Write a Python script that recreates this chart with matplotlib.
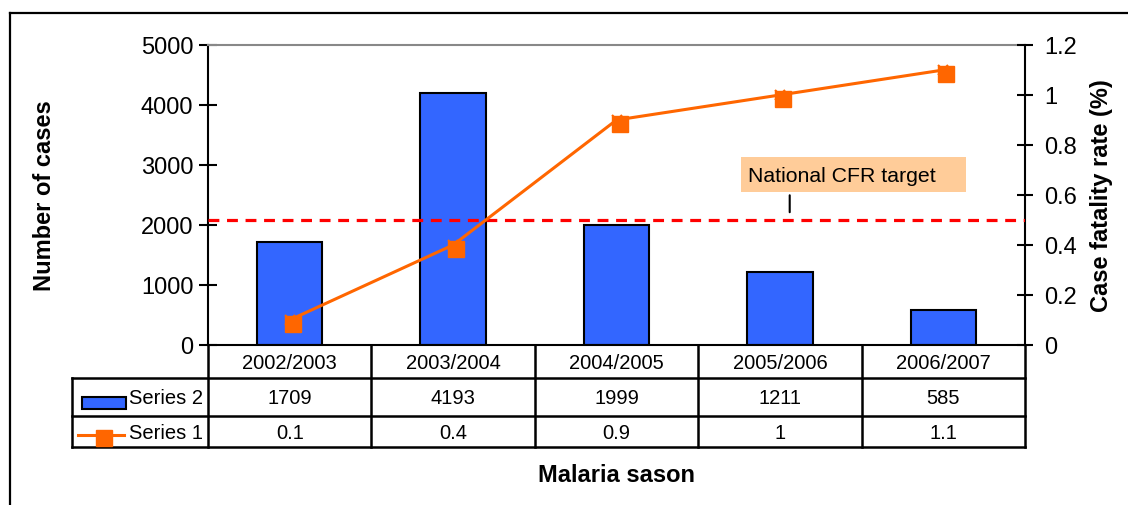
import matplotlib
matplotlib.use("Agg")
import matplotlib.pyplot as plt
from matplotlib.patches import Rectangle
from matplotlib.lines import Line2D
import matplotlib.transforms as mtransforms

plt.rcParams['font.family'] = ['Liberation Sans', 'DejaVu Sans']

# ---- data ----
seasons = ["2002/2003", "2003/2004", "2004/2005", "2005/2006", "2006/2007"]
cases = [1709, 4193, 1999, 1211, 585]
cfr = [0.1, 0.4, 0.9, 1.0, 1.1]
cfr_target = 0.5
series_cases_name = "Series 2"
series_cfr_name = "Series 1"
left_ticks = [0, 1000, 2000, 3000, 4000, 5000]
right_ticks = [0, 0.2, 0.4, 0.6, 0.8, 1, 1.2]

W, H = 1128, 506
DPI = 100
fig = plt.figure(figsize=(W / DPI, H / DPI), dpi=DPI)

def fbox(x0, y0, x1, y1):
    # pixel box (top-origin) -> figure fraction rect
    return [x0 / W, 1 - y1 / H, (x1 - x0) / W, (y1 - y0) / H]

BLUE = "#3366FF"
ORANGE = "#FF6600"

# outer frame (top and left edges)
fig.add_artist(Line2D([10 / W, 10 / W], [1 - 14 / H, 0], color="black", lw=1.6,
                      transform=fig.transFigure))
fig.add_artist(Line2D([10 / W, 1], [1 - 14 / H, 1 - 14 / H], color="black", lw=1.6,
                      transform=fig.transFigure))

AX_L, AX_R, AX_T, AX_B = 208, 1025, 46, 346
ax = fig.add_axes(fbox(AX_L, AX_T, AX_R, AX_B))
x = list(range(len(seasons)))
ax.bar(x, cases, width=0.40, color=BLUE, edgecolor="black", linewidth=1.5, zorder=2)
ax.set_xlim(-0.5, len(seasons) - 0.5)
ax.set_ylim(0, 5000)
ax.set_yticks(left_ticks)
ax.set_yticklabels([str(t) for t in left_ticks])
ax.set_xticks([])
ax.tick_params(axis="y", direction="inout", length=13, width=1.5, labelsize=17, pad=4)
for s in ["left", "bottom"]:
    ax.spines[s].set_linewidth(1.5)
    ax.spines[s].set_color("black")
ax.spines["top"].set_color("#888888")
ax.spines["top"].set_linewidth(1.5)
ax.spines["right"].set_visible(False)
ax.set_ylabel("Number of cases", fontsize=17, fontweight="bold")
ax.yaxis.set_label_coords(-152 / (AX_R - AX_L), 0.5)

ax2 = ax.twinx()
ax2.set_ylim(0, 1.2)
ax2.set_yticks(right_ticks)
ax2.set_yticklabels(["{:g}".format(t) for t in right_ticks])
ax2.tick_params(axis="y", direction="inout", length=12, width=1.5, labelsize=17, pad=8)
ax2.spines["right"].set_linewidth(1.5)
ax2.spines["right"].set_color("black")
for s in ["top", "left", "bottom"]:
    ax2.spines[s].set_visible(False)
ax2.set_ylabel("Case fatality rate (%)", fontsize=17, fontweight="bold")
ax2.yaxis.set_label_coords(1 + 65 / (AX_R - AX_L), 0.5)

# target line
ax2.axhline(cfr_target, color="#FF0000", lw=2.3, linestyle=(0, (3.4, 2.4)), zorder=3)

# CFR line
ax2.plot(x, cfr, color=ORANGE, lw=2.2, marker="x", markersize=7, mew=1.5, zorder=4)
off = mtransforms.ScaledTranslation(3 / DPI, -4 / DPI, fig.dpi_scale_trans)
ax2.plot(x, cfr, linestyle="none", marker="s", markersize=12, color=ORANGE,
         transform=ax2.transData + off, zorder=5)

# annotation box
ann_x = 3.06  # leader line x (data units)
ax2.annotate("", xy=(ann_x, cfr_target + 0.02), xytext=(ann_x, cfr_target + 0.11),
             arrowprops=dict(arrowstyle="-", color="black", lw=1.5))
fig.add_artist(Rectangle((741 / W, 1 - 193 / H), (966 - 741) / W, (193 - 158) / H,
                         transform=fig.transFigure, facecolor="#FFCC99", edgecolor="none"))
fig.text(748 / W, 1 - 176 / H, "National CFR target", fontsize=15.3, va="center", ha="left")

# ---- data table below the axis ----
T_L, T_T, T_B = 72, 346, 448
tax = fig.add_axes(fbox(T_L, T_T, AX_R, T_B))
upx = len(seasons) / (AX_R - AX_L)
xl = -0.5 - (AX_L - T_L) * upx
tax.set_xlim(xl, len(seasons) - 0.5)
tax.set_ylim(T_B - T_T, 0)
tax.axis("off")
r1, r2, r3 = 33, 71, 102
lk = dict(color="black", lw=1.8, clip_on=False, solid_capstyle="projecting")
for yy in (r1, r2, r3):
    tax.plot([xl, len(seasons) - 0.5], [yy, yy], **lk)
for k in range(len(seasons) + 1):
    tax.plot([k - 0.5, k - 0.5], [0, r3], **lk)
tax.plot([xl, xl], [r1, r3], **lk)

fs = 14.5
for i, s in enumerate(seasons):
    tax.text(i, r1 / 2 + 1, s, ha="center", va="center", fontsize=fs)
    tax.text(i, (r1 + r2) / 2 + 1, "{:g}".format(cases[i]), ha="center", va="center", fontsize=fs)
    tax.text(i, (r2 + r3) / 2 + 1, "{:g}".format(round(cfr[i], 1)), ha="center", va="center", fontsize=fs)

# legend keys
tax.add_patch(Rectangle((xl + 10 * upx, 52), 44 * upx, 12, facecolor=BLUE,
                        edgecolor="black", lw=1.5, clip_on=False))
tax.text(xl + 57 * upx, (r1 + r2) / 2 + 1, series_cases_name, ha="left", va="center", fontsize=fs)
tax.plot([xl + 6 * upx, xl + 52 * upx], [90, 90], color=ORANGE, lw=2.2, clip_on=False)
tax.plot([xl + 32 * upx], [93], marker="s", markersize=11, color=ORANGE, clip_on=False)
tax.text(xl + 57 * upx, (r2 + r3) / 2 + 1, series_cfr_name, ha="left", va="center", fontsize=fs)

fig.text(617 / W, 1 - 476 / H, "Malaria sason", ha="center", va="center",
         fontsize=17, fontweight="bold")

fig.savefig("out.png", dpi=DPI)
